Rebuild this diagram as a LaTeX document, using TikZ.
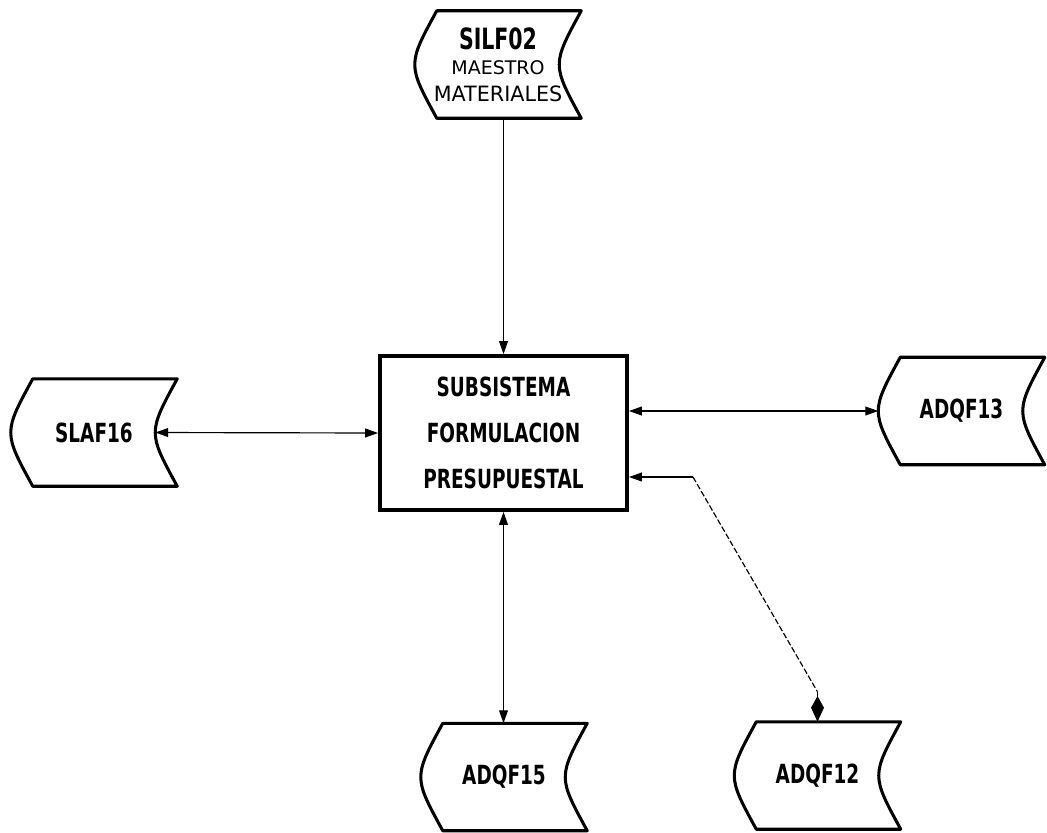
\documentclass[tikz,border=0pt]{standalone}
\usepackage{fontspec}
\setmainfont{DejaVu Sans}[FakeStretch=0.7]
\usetikzlibrary{arrows.meta}

% bulge of the stored-data sides
\def\bulge{0.66cm}

\tikzset{
  store/.style={minimum width=4.98cm, minimum height=3.21cm, inner sep=0pt,
    font=\bfseries\fontsize{22.5}{24}\selectfont},
  storeline/.style={line width=2.6pt, line join=round},
  proc/.style={draw, line width=3.2pt, minimum width=7.41cm, minimum height=4.62cm,
    align=center, font=\bfseries\fontsize{22.5}{39}\selectfont},
  link/.style={line width=1pt, {Triangle[length=11pt, width=7.5pt]}-{Triangle[length=11pt, width=7.5pt]}},
  inlink/.style={line width=1pt, -{Triangle[length=11pt, width=7.5pt]}}
}

% outline of a stored-data node
\newcommand{\storeoutline}[1]{%
  \draw[storeline] ([xshift=\bulge]#1.north west) -- (#1.north east)
    .. controls ([xshift=-1.333*\bulge]#1.east) .. (#1.south east)
    -- ([xshift=\bulge]#1.south west)
    .. controls ([xshift=-0.333*\bulge]#1.west) .. cycle;}

\begin{document}
\begin{tikzpicture}[x=0.03cm, y=-0.03cm]
    \useasboundingbox (0,0) rectangle (1047,832);

    % Central process
    \node[proc] (sub) at (503.5,433) {SUBSISTEMA\\FORMULACION\\PRESUPUESTAL};

    % Stored data
    \node[store, align=center] (silf) at (498,64.5)
      {{\fontsize{25}{18}\selectfont SILF02}\\[-3pt]
       {\mdseries\fontsize{16}{18}\selectfont\scalebox{1.45}[1]{MAESTRO}}\\[-1pt]
       {\mdseries\fontsize{18}{18}\selectfont\scalebox{1.4}[1]{MATERIALES}}};
    \node[store] (slaf16) at (94,432.5) {SLAF16};
    \node[store] (adqf13) at (961.5,411) {ADQF13};
    \node[store] (adqf15) at (504,777) {ADQF15};
    \node[store] (adqf12) at (817.5,775.5) {ADQF12};
    \foreach \s in {silf,slaf16,adqf13,adqf15,adqf12} {
        \storeoutline{\s}
    }

    % Flows
    \draw[inlink] (sub.north |- silf.south) -- (sub.north);
    \draw[link] ([xshift=-\bulge]slaf16.east) -- (sub.west);
    \draw[link] (sub.east |- adqf13.west) -- (adqf13.west);
    \draw[link] (sub.south) -- (sub.south |- adqf15.north);
    \coordinate (knee) at (693,477);
    \coordinate (kitetop) at ([yshift=0.9cm]adqf12.north);
    \draw[inlink] (knee) -- (sub.east |- knee);
    \draw[line width=1pt, dash pattern=on 5pt off 2pt] (knee) -- (kitetop);
    \draw[line width=1pt, -{Kite[length=22pt, width=11pt, inset=10pt]}] (kitetop) -- (adqf12.north);
\end{tikzpicture}
\end{document}
